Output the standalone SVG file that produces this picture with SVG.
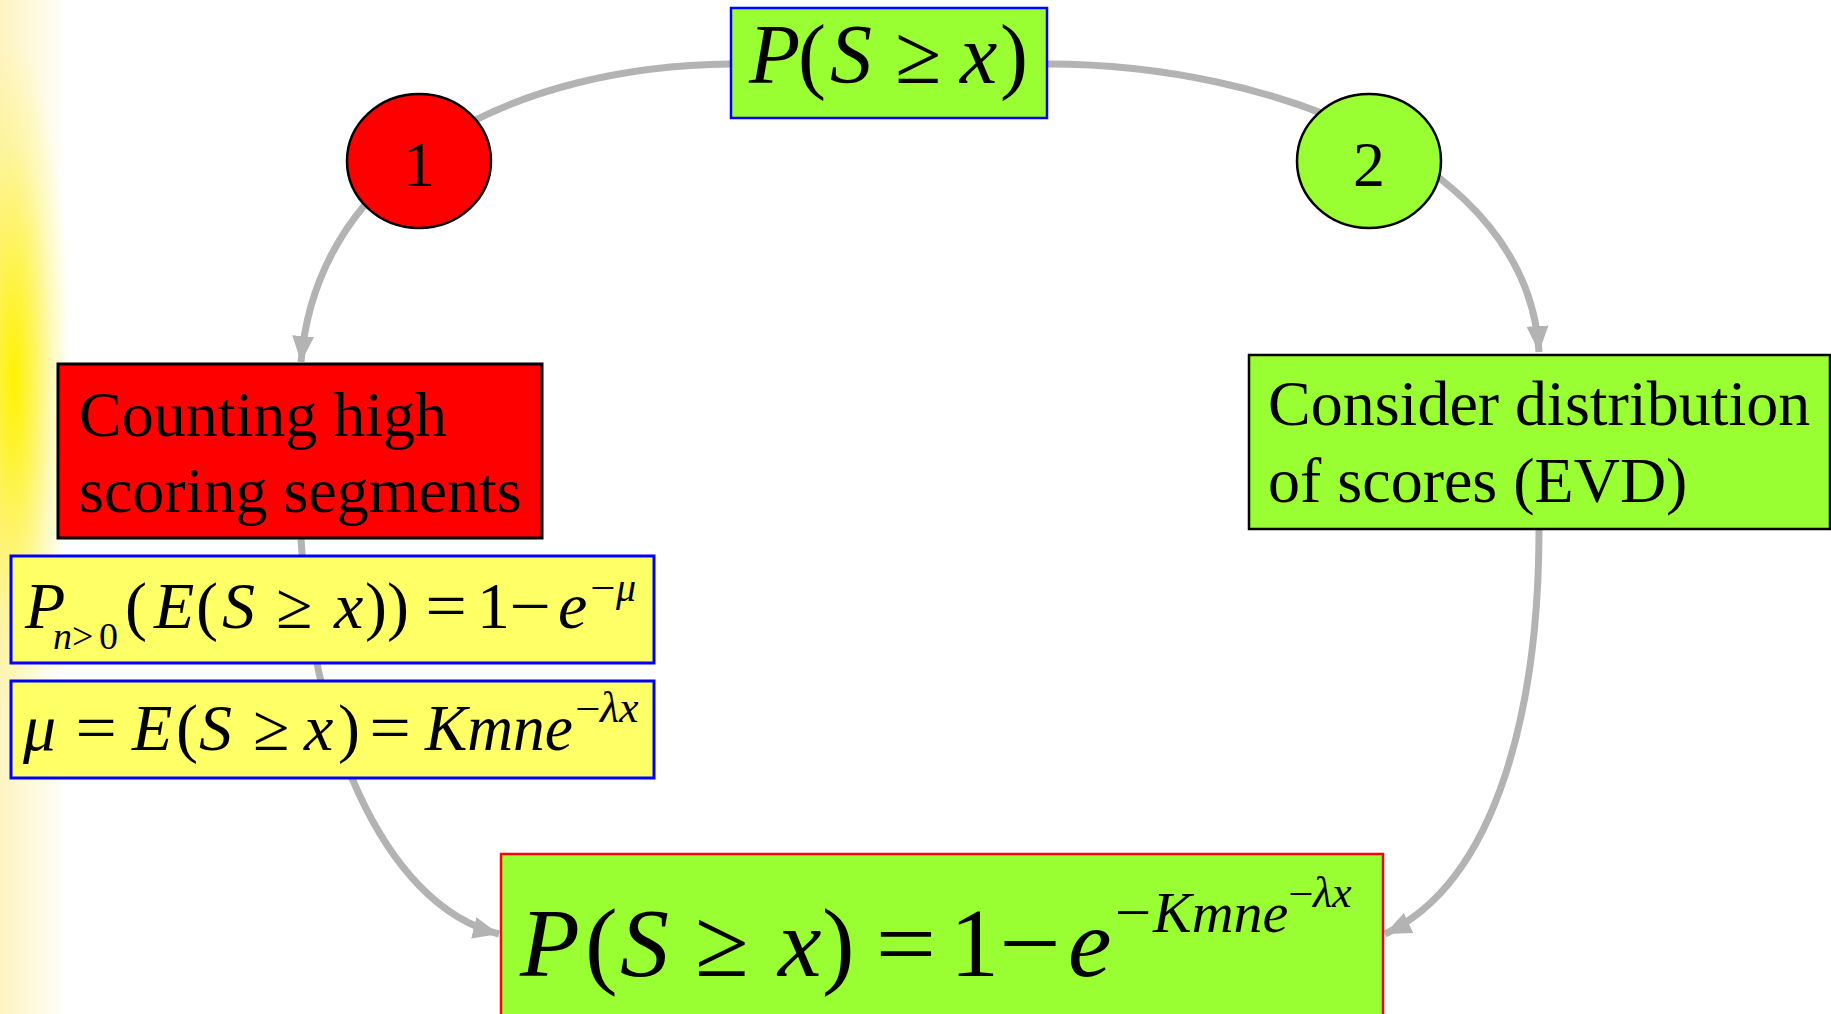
<svg xmlns="http://www.w3.org/2000/svg" width="1831" height="1014" viewBox="0 0 1831 1014">
<defs>
<linearGradient id="bandH" gradientUnits="userSpaceOnUse" x1="0" y1="0" x2="68" y2="0">
<stop offset="0" stop-color="#fdf4c0"/>
<stop offset="0.55" stop-color="#fefae2"/>
<stop offset="1" stop-color="#ffffff"/>
</linearGradient>
<radialGradient id="bandR" gradientUnits="userSpaceOnUse" cx="0" cy="0" r="1" gradientTransform="translate(14 380) scale(56 340)">
<stop offset="0" stop-color="#fff200" stop-opacity="1"/>
<stop offset="0.35" stop-color="#fff200" stop-opacity="0.6"/>
<stop offset="0.7" stop-color="#fff200" stop-opacity="0.2"/>
<stop offset="1" stop-color="#fff200" stop-opacity="0"/>
</radialGradient>
<marker id="arr" markerUnits="userSpaceOnUse" markerWidth="28" markerHeight="28" viewBox="0 0 28 28" refX="26" refY="14" orient="auto">
<path d="M0,3 L26,14 L0,25 Z" fill="#b3b3b3"/>
</marker>
<style>
.conn{fill:none;stroke:#b3b3b3;stroke-width:7}
.t{font-family:"Liberation Serif","Times New Roman",serif;fill:#000}
.i{font-style:italic}
.op{font-family:"Liberation Serif","Times New Roman",serif;fill:#000;text-anchor:middle}
</style>
</defs>
<rect width="1831" height="1014" fill="#ffffff"/>
<g id="background-band">
<rect x="0" y="0" width="68" height="1014" fill="url(#bandH)"/>
<rect x="0" y="0" width="68" height="1014" fill="url(#bandR)"/>
</g>
<g id="connectors">
<path class="conn" d="M730,64 C520,66 318,160 301,362" marker-end="url(#arr)"/>
<path class="conn" d="M1048,64 C1270,64 1528,160 1539,352" marker-end="url(#arr)"/>
<path class="conn" d="M301,539 C310,720 380,905 499,934" marker-end="url(#arr)"/>
<path class="conn" d="M1539,529 C1539,700 1500,880 1385,934" marker-end="url(#arr)"/>
</g>
<g id="node-top">
<rect x="731" y="8" width="316" height="110" fill="#99ff33" stroke="#0000ff" stroke-width="2.5"/>
<text class="t" y="83" font-size="84"><tspan class="i" x="749">P</tspan><tspan x="798">(</tspan><tspan class="i" x="830">S</tspan><tspan x="895">≥</tspan><tspan class="i" x="960">x</tspan><tspan x="1000">)</tspan></text>
</g>
<g id="node-circle1">
<ellipse cx="419" cy="161" rx="72" ry="67" fill="#ff0000" stroke="#000" stroke-width="2.5"/>
<text class="t" x="419" y="186" font-size="64" text-anchor="middle">1</text>
</g>
<g id="node-circle2">
<ellipse cx="1369" cy="161" rx="72" ry="67" fill="#99ff33" stroke="#000" stroke-width="2.5"/>
<text class="t" x="1369" y="186" font-size="64" text-anchor="middle">2</text>
</g>
<g id="node-counting">
<rect x="58" y="364" width="484" height="174" fill="#ff0000" stroke="#000" stroke-width="3"/>
<text class="t" font-size="64"><tspan x="79" y="436">Counting high</tspan><tspan x="79" y="512">scoring segments</tspan></text>
</g>
<g id="node-evd">
<rect x="1249" y="355" width="581" height="174" fill="#99ff33" stroke="#000" stroke-width="2.5"/>
<text class="t" font-size="64"><tspan x="1268" y="425">Consider distribution</tspan><tspan x="1268" y="502">of scores (EVD)</tspan></text>
</g>
<g id="node-formula1">
<rect x="11" y="556" width="643" height="107" fill="#ffff66" stroke="#0000ff" stroke-width="3"/>
<text class="t" y="628" font-size="66"><tspan class="i" x="25">P</tspan><tspan x="125">(</tspan><tspan class="i" x="154">E</tspan><tspan x="196">(</tspan><tspan class="i" x="222">S</tspan><tspan x="276">≥</tspan><tspan class="i" x="334">x</tspan><tspan x="365">))</tspan><tspan x="477">1</tspan><tspan class="i" x="558">e</tspan></text>
<text class="op" font-size="66" transform="translate(446 628) scale(1.12 1)">=</text>
<text class="op" font-size="66" transform="translate(530 628) scale(1.12 1)">−</text>
<text class="t" y="649" font-size="38"><tspan class="i" x="53">n</tspan><tspan x="72">&gt;</tspan><tspan x="99">0</tspan></text>
<text class="op" font-size="40" transform="translate(603 601) scale(1.12 1)">−</text>
<text class="t i" x="616" y="601" font-size="40">μ</text>
</g>
<g id="node-formula2">
<rect x="11" y="681" width="643" height="97" fill="#ffff66" stroke="#0000ff" stroke-width="3"/>
<text class="t" y="750" font-size="66"><tspan class="i" x="23">μ</tspan><tspan class="i" x="132">E</tspan><tspan x="176">(</tspan><tspan class="i" x="199">S</tspan><tspan x="253">≥</tspan><tspan class="i" x="304">x</tspan><tspan x="338">)</tspan><tspan class="i" x="425" textLength="148" lengthAdjust="spacingAndGlyphs">Kmne</tspan></text>
<text class="op" font-size="66" transform="translate(96 750) scale(1.12 1)">=</text>
<text class="op" font-size="66" transform="translate(390 750) scale(1.12 1)">=</text>
<text class="op" font-size="40" transform="translate(588 722) scale(1.12 1)">−</text>
<text class="t i" x="600" y="722" font-size="44">λx</text>
</g>
<g id="node-result">
<rect x="501" y="854" width="882" height="170" fill="#99ff33" stroke="#ff0000" stroke-width="2.5"/>
<text class="t" y="976" font-size="98"><tspan class="i" x="520">P</tspan><tspan x="585">(</tspan><tspan class="i" x="620">S</tspan><tspan x="695">≥</tspan><tspan class="i" x="778">x</tspan><tspan x="822">)</tspan><tspan x="950">1</tspan><tspan class="i" x="1068">e</tspan></text>
<text class="op" font-size="98" transform="translate(906 976) scale(1.1 1)">=</text>
<text class="op" font-size="98" transform="translate(1030 976) scale(1.12 1)">−</text>
<text class="op" font-size="58" transform="translate(1133 932) scale(1.12 1)">−</text>
<text class="t i" x="1153" y="932" font-size="58">Kmne</text>
<text class="op" font-size="40" transform="translate(1301 907) scale(1.12 1)">−</text>
<text class="t i" x="1313" y="907" font-size="44">λx</text>
</g>
</svg>
